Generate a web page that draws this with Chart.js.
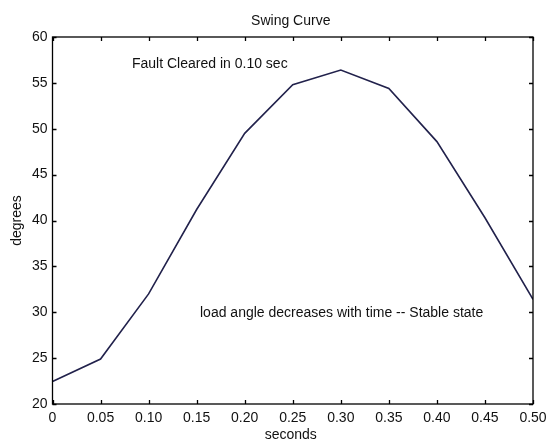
<!DOCTYPE html>
<html>
<head>
<meta charset="utf-8">
<script src="https://cdn.jsdelivr.net/npm/chart.js@4"></script>
<style>
  html, body { margin: 0; padding: 0; background: #fff; }
  canvas { display: block; }
</style>
</head>
<body>
<canvas id="c" width="547" height="439"></canvas>
<script>
// ---- data ----
const seconds = [0, 0.05, 0.10, 0.15, 0.20, 0.25, 0.30, 0.35, 0.40, 0.45, 0.50];
const degrees = [22.46, 24.9, 32.0, 41.2, 49.5, 54.8, 56.4, 54.4, 48.6, 40.3, 31.4];
const xTickLabels = ['0', '0.05', '0.10', '0.15', '0.20', '0.25', '0.30', '0.35', '0.40', '0.45', '0.50'];
const yTickValues = [20, 25, 30, 35, 40, 45, 50, 55, 60];
const titleText = 'Swing Curve';
const xAxisTitle = 'seconds';
const yAxisTitle = 'degrees';
const noteTop = 'Fault Cleared in 0.10 sec';
const noteBottom = 'load angle decreases with time -- Stable state';

const FONT = '"Liberation Sans", Arial, Helvetica, sans-serif';
const TXT = '#111111';

const decor = {
  id: 'decor',
  afterDraw(chart) {
    const ctx = chart.ctx;
    const a = chart.chartArea;
    const xs = chart.scales.x, ys = chart.scales.y;
    ctx.save();
    // box
    ctx.strokeStyle = '#000';
    ctx.lineWidth = 1.3;
    ctx.strokeRect(a.left, a.top, a.right - a.left, a.bottom - a.top);
    // inward ticks
    const L = 4;
    ctx.beginPath();
    seconds.forEach(v => {
      const px = Math.round(xs.getPixelForValue(v)) + 0.5;
      ctx.moveTo(px, a.bottom); ctx.lineTo(px, a.bottom - L);
      ctx.moveTo(px, a.top); ctx.lineTo(px, a.top + L);
    });
    yTickValues.forEach(v => {
      const py = Math.round(ys.getPixelForValue(v)) + 0.5;
      ctx.moveTo(a.left, py); ctx.lineTo(a.left + L, py);
      ctx.moveTo(a.right, py); ctx.lineTo(a.right - L, py);
    });
    ctx.stroke();
    // texts
    ctx.fillStyle = TXT;
    ctx.font = '14px ' + FONT;
    ctx.textBaseline = 'middle';
    const cx = (a.left + a.right) / 2;
    ctx.textAlign = 'center';
    ctx.fillText(titleText, cx - 2, 21);
    ctx.fillText(xAxisTitle, cx - 2, 435);
    ctx.save();
    ctx.translate(17, (a.top + a.bottom) / 2);
    ctx.rotate(-Math.PI / 2);
    ctx.fillText(yAxisTitle, 0, 0);
    ctx.restore();
    ctx.textAlign = 'left';
    ctx.fillText(noteTop, 132, 64);
    ctx.fillText(noteBottom, 200, 313);
    ctx.restore();
  }
};

new Chart(document.getElementById('c'), {
  type: 'line',
  data: {
    datasets: [{
      data: seconds.map((s, i) => ({ x: s, y: degrees[i] })),
      borderColor: '#22224c',
      borderWidth: 1.6,
      pointRadius: 0,
      tension: 0,
      fill: false
    }]
  },
  options: {
    responsive: false,
    animation: false,
    devicePixelRatio: 1,
    layout: { padding: { top: 37, right: 14, left: 0, bottom: 0 } },
    plugins: {
      legend: { display: false },
      title: { display: false },
      tooltip: { enabled: false }
    },
    scales: {
      x: {
        type: 'linear',
        min: 0, max: 0.5,
        afterBuildTicks: s => { s.ticks = seconds.map(v => ({ value: v })); },
        afterFit: s => { s.height = 35; s.paddingLeft = 0; s.paddingRight = 0; },
        ticks: {
          callback: (v, i) => xTickLabels[i],
          font: { family: FONT, size: 14 },
          color: TXT,
          padding: 6,
          maxRotation: 0,
          autoSkip: false
        },
        grid: { display: false, drawTicks: false },
        border: { display: false }
      },
      y: {
        type: 'linear',
        min: 20, max: 60,
        afterBuildTicks: s => { s.ticks = yTickValues.map(v => ({ value: v })); },
        afterFit: s => { s.width = 52.5; s.paddingTop = 0; s.paddingBottom = 0; },
        ticks: {
          font: { family: FONT, size: 14 },
          color: TXT,
          padding: 5
        },
        grid: { display: false, drawTicks: false },
        border: { display: false }
      }
    }
  },
  plugins: [decor]
});
</script>
</body>
</html>
